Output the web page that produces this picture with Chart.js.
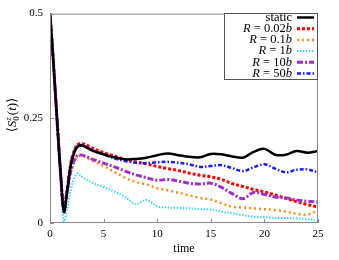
<!DOCTYPE html>
<html>
<head>
<meta charset="utf-8">
<script src="https://cdn.jsdelivr.net/npm/chart.js@4/dist/chart.umd.min.js"></script>
<style>
  html, body { margin: 0; padding: 0; background: #ffffff; }
  #wrap { width: 339px; height: 260px; position: relative; }
</style>
</head>
<body>
<div id="wrap"><canvas id="canvas"></canvas></div>
<script>
"use strict";

// time axis (non uniform, denser near the dip)
const times = [0, 0.25, 0.5, 0.75, 1, 1.3, 1.6, 2, 2.5, 3, 4, 5, 6, 7, 8, 9, 10,
  11, 12, 13, 14, 15, 16, 17, 18, 19, 20, 21, 22, 23, 24, 25];

const staticVals = [0.5, 0.41, 0.31, 0.21, 0.115, 0.026, 0.075, 0.145, 0.18, 0.185,
  0.172, 0.164, 0.157, 0.152, 0.153, 0.156, 0.162, 0.166, 0.162, 0.158, 0.157,
  0.165, 0.164, 0.159, 0.156, 0.17, 0.177, 0.163, 0.163, 0.172, 0.168, 0.172];
const r002Vals = [0.5, 0.41, 0.31, 0.21, 0.115, 0.03, 0.08, 0.15, 0.185, 0.19,
  0.178, 0.168, 0.16, 0.152, 0.146, 0.141, 0.135, 0.13, 0.125, 0.119, 0.114,
  0.11, 0.104, 0.094, 0.087, 0.08, 0.074, 0.067, 0.059, 0.051, 0.044, 0.038];
const r01Vals = [0.5, 0.41, 0.31, 0.21, 0.115, 0.03, 0.07, 0.125, 0.158, 0.16,
  0.148, 0.136, 0.122, 0.108, 0.098, 0.092, 0.083, 0.078, 0.072, 0.066, 0.06,
  0.056, 0.047, 0.039, 0.037, 0.035, 0.033, 0.031, 0.027, 0.022, 0.02, 0.03];
const r1Vals = [0.5, 0.41, 0.31, 0.21, 0.105, 0.0, 0.035, 0.085, 0.118, 0.11,
  0.095, 0.086, 0.075, 0.062, 0.045, 0.055, 0.04, 0.037, 0.036, 0.035, 0.033,
  0.032, 0.027, 0.023, 0.019, 0.015, 0.014, 0.012, 0.012, 0.011, 0.009, 0.005];
const r10Vals = [0.5, 0.41, 0.31, 0.21, 0.115, 0.036, 0.075, 0.13, 0.16, 0.162,
  0.152, 0.143, 0.134, 0.124, 0.115, 0.108, 0.102, 0.104, 0.1, 0.095, 0.093,
  0.095, 0.085, 0.07, 0.058, 0.073, 0.068, 0.062, 0.06, 0.055, 0.052, 0.05];
const r50Vals = [0.5, 0.41, 0.31, 0.21, 0.115, 0.03, 0.08, 0.148, 0.183, 0.186,
  0.174, 0.164, 0.154, 0.148, 0.144, 0.143, 0.145, 0.146, 0.144, 0.14, 0.134,
  0.136, 0.138, 0.131, 0.124, 0.133, 0.14, 0.13, 0.121, 0.127, 0.128, 0.121];

// legend labels: [text, italic?] pieces
const seriesLabels = [
  [["static", false]],
  [["R", true], [" = 0.02", false], ["b", true]],
  [["R", true], [" = 0.1", false], ["b", true]],
  [["R", true], [" = 1", false], ["b", true]],
  [["R", true], [" = 10", false], ["b", true]],
  [["R", true], [" = 50", false], ["b", true]],
];
const xTicks = [0, 5, 10, 15, 20, 25];
const yTicks = [0, 0.25, 0.5];

const SERIF = "'Liberation Serif', 'DejaVu Serif', serif";

const toPoints = (vals) => vals.map((v, i) => ({ x: times[i], y: v }));

const styles = [
  { color: "#000000", width: 2.5, dash: [], order: 0 },
  { color: "#ff0000", width: 3, dash: [3, 2], order: 3 },
  { color: "#ff8c1a", width: 2.5, dash: [2, 3], order: 4 },
  { color: "#3fd8f5", width: 2, dash: [1.5, 1.5], order: 5 },
  { color: "#a030c8", width: 3, dash: [6, 2, 2, 2], order: 2 },
  { color: "#1a1aff", width: 2.5, dash: [4, 2, 1.5, 2], order: 1 },
];
const allVals = [staticVals, r002Vals, r01Vals, r1Vals, r10Vals, r50Vals];

const drawPieces = (ctx, pieces, xRight, y, size) => {
  let total = 0;
  pieces.forEach(([t, it]) => {
    ctx.font = (it ? "italic " : "") + size + "px " + SERIF;
    total += ctx.measureText(t).width;
  });
  let x = xRight - total;
  pieces.forEach(([t, it]) => {
    ctx.font = (it ? "italic " : "") + size + "px " + SERIF;
    ctx.fillText(t, x, y);
    x += ctx.measureText(t).width;
  });
};

// frame, inward ticks, y title and legend box
const decorations = {
  id: "decorations",
  afterDraw(chart) {
    const c = chart.ctx;
    const a = chart.chartArea;
    const xs = chart.scales.x;
    const ys = chart.scales.y;
    c.save();
    c.strokeStyle = "#8a8a8a";
    c.lineWidth = 1;
    c.setLineDash([]);
    c.strokeRect(a.left + 0.5, a.top + 0.5, a.right - a.left - 1, a.bottom - a.top - 1);
    c.beginPath();
    xTicks.forEach((t) => {
      const px = Math.round(xs.getPixelForValue(t)) + 0.5;
      c.moveTo(px, a.bottom);
      c.lineTo(px, a.bottom - 4);
    });
    yTicks.forEach((t) => {
      const py = Math.round(ys.getPixelForValue(t)) + 0.5;
      c.moveTo(a.left, py);
      c.lineTo(a.left + 4, py);
    });
    c.stroke();

    // y title <S_0^z(t)>
    c.fillStyle = "#000000";
    c.textBaseline = "alphabetic";
    c.translate(16, 115);
    c.rotate(-Math.PI / 2);
    const parts = [];
    let w = 0;
    const add = (t, font, dy, adv) => { parts.push([t, font, w, dy]); c.font = font; const m = c.measureText(t).width; if (adv) w += m; return m; };
    add("\u27E8", "13px " + SERIF, 0, true);
    add("S", "italic 13px " + SERIF, 0, true);
    const mz = add("z", "italic 9px " + SERIF, -5, false);
    const m0 = add("0", "9px " + SERIF, 3, false);
    w += Math.max(mz, m0) + 1;
    add("(", "13px " + SERIF, 0, true);
    add("t", "italic 13px " + SERIF, 0, true);
    add(")", "13px " + SERIF, 0, true);
    add("\u27E9", "13px " + SERIF, 0, true);
    parts.forEach(([t, font, x, dy]) => {
      c.font = font;
      c.fillText(t, x - w / 2, dy);
    });
    c.setTransform(1, 0, 0, 1, 0, 0);

    // legend
    const bx = 224, by = 13, bw = a.right - bx, bh = 67;
    c.fillStyle = "#ffffff";
    c.fillRect(bx, by, bw, bh);
    c.strokeStyle = "#555555";
    c.lineWidth = 1;
    c.strokeRect(bx + 0.5, by + 0.5, bw - 1, bh - 1);
    c.textBaseline = "middle";
    seriesLabels.forEach((pieces, i) => {
      const y = by + 4.5 + i * 11.2;
      c.fillStyle = "#000000";
      drawPieces(c, pieces, 292, y, 12.5);
      const st = styles[i];
      c.strokeStyle = st.color;
      c.lineWidth = st.width;
      c.setLineDash(st.dash);
      c.beginPath();
      c.moveTo(297, y);
      c.lineTo(314, y);
      c.stroke();
    });
    c.restore();
  },
};

const datasets = allVals.map((vals, i) => ({
  label: seriesLabels[i].map((p) => p[0]).join(""),
  data: toPoints(vals),
  borderColor: styles[i].color,
  borderWidth: styles[i].width,
  borderDash: styles[i].dash,
  order: styles[i].order,
  pointRadius: 0,
  tension: 0.35,
  fill: false,
}));

const chart = new Chart(document.getElementById("canvas"), {
  type: "line",
  data: { datasets: datasets },
  plugins: [decorations],
  options: {
    responsive: true,
    maintainAspectRatio: false,
    animation: false,
    layout: { padding: { top: 13, right: 21, left: 0, bottom: 0 } },
    plugins: {
      legend: { display: false },
      tooltip: { enabled: false },
    },
    scales: {
      x: {
        type: "linear",
        min: 0,
        max: 25,
        grid: { display: false, drawTicks: false },
        border: { display: false },
        afterBuildTicks: (scale) => { scale.ticks = xTicks.map((v) => ({ value: v })); },
        afterFit: (scale) => { scale.height = 37; },
        ticks: {
          color: "#000000",
          padding: 5,
          maxRotation: 0,
          font: { family: SERIF, size: 11 },
        },
        title: {
          display: true,
          text: "time",
          color: "#000000",
          padding: { top: 0, bottom: 4 },
          font: { family: SERIF, size: 12 },
        },
      },
      y: {
        min: 0,
        max: 0.5,
        grid: { display: false, drawTicks: false },
        border: { display: false },
        afterBuildTicks: (scale) => { scale.ticks = yTicks.map((v) => ({ value: v })); },
        afterFit: (scale) => { scale.width = 50; },
        ticks: {
          color: "#000000",
          padding: 7,
          font: { family: SERIF, size: 11 },
          callback: (v) => String(v),
        },
      },
    },
  },
});
</script>
</body>
</html>
